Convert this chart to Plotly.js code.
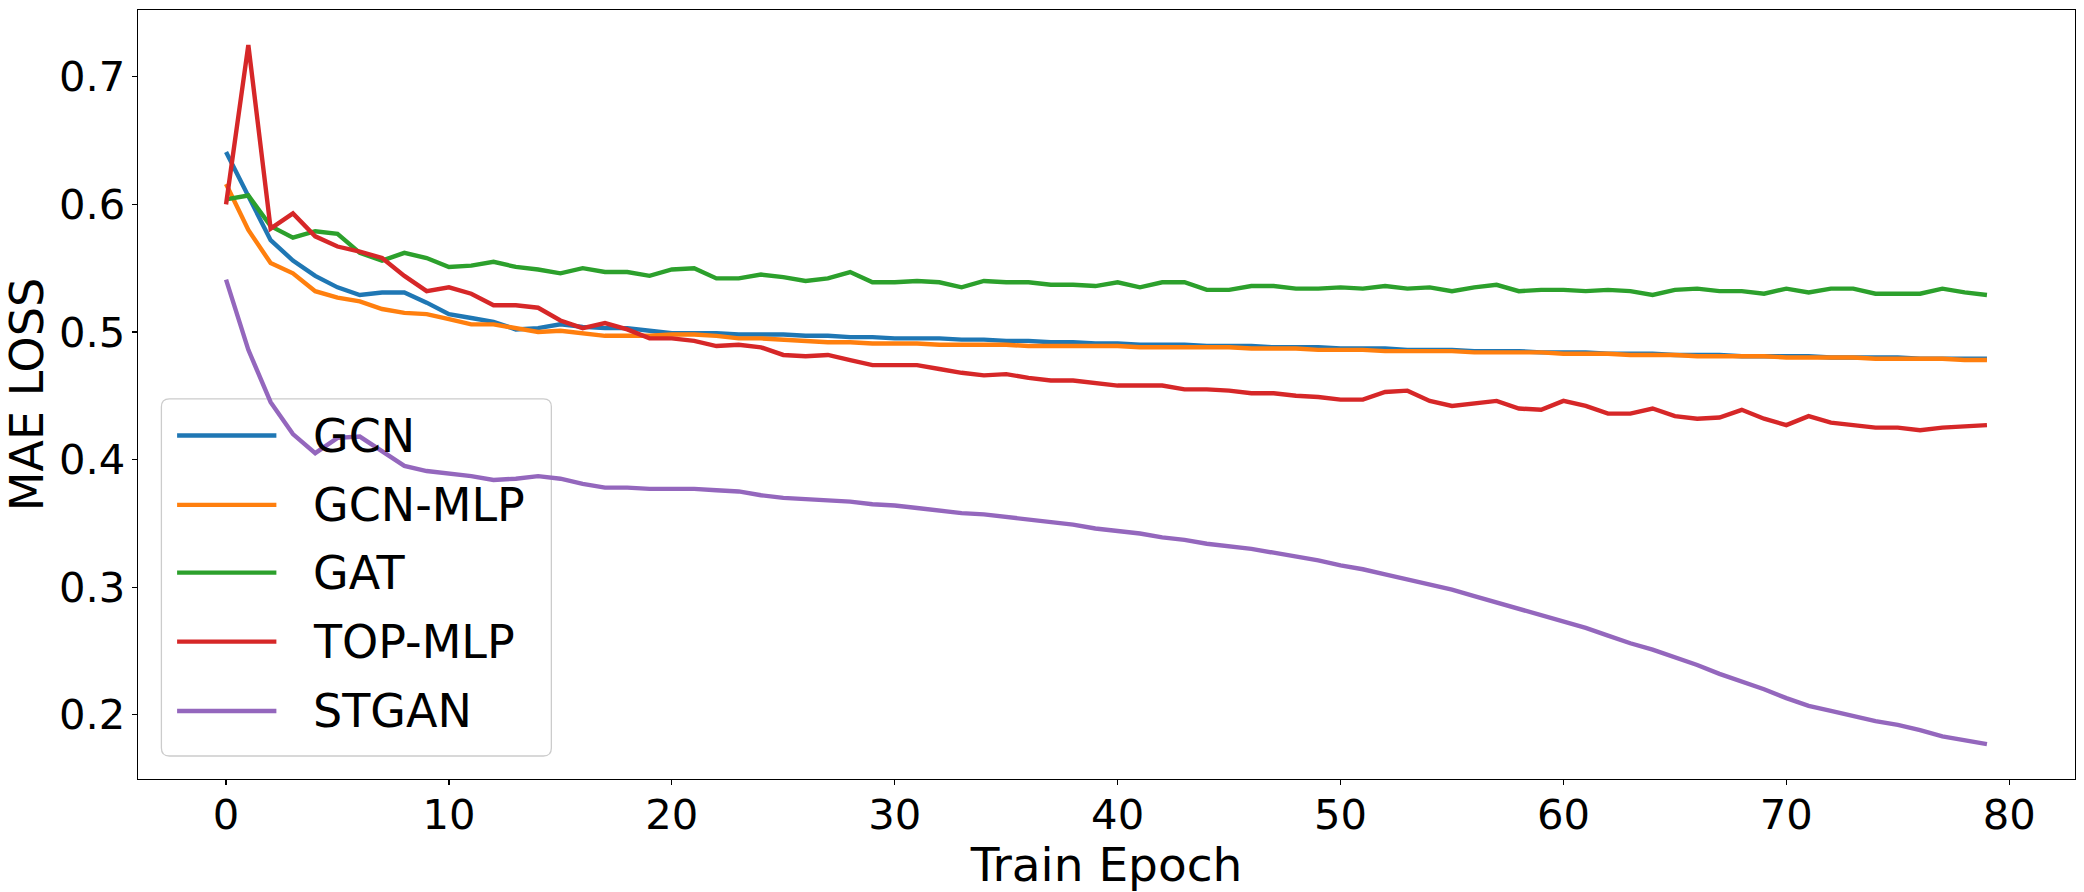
<!DOCTYPE html>
<html>
<head>
<meta charset="utf-8">
<script src="https://cdn.plot.ly/plotly-3.0.1.min.js"></script>
<style>
  html, body { margin: 0; padding: 0; background: #ffffff; }
  #chart { width: 2084px; height: 892px; }
</style>
</head>
<body>
<div id="chart"></div>
<script>
// ---------------- data ----------------
const epochs = Array.from({length: 80}, (_, i) => i);

const seriesNames = ["GCN", "GCN-MLP", "GAT", "TOP-MLP", "STGAN"];

const gcn = [
  0.641, 0.606, 0.572, 0.556, 0.544, 0.535, 0.529, 0.531, 0.531, 0.523,
  0.514, 0.511, 0.508, 0.502, 0.503, 0.506, 0.504, 0.503, 0.503, 0.501,
  0.499, 0.499, 0.499, 0.498, 0.498, 0.498, 0.497, 0.497, 0.496, 0.496,
  0.495, 0.495, 0.495, 0.494, 0.494, 0.493, 0.493, 0.492, 0.492, 0.491,
  0.491, 0.490, 0.490, 0.490, 0.489, 0.489, 0.489, 0.488, 0.488, 0.488,
  0.487, 0.487, 0.487, 0.486, 0.486, 0.486, 0.485, 0.485, 0.485, 0.484,
  0.484, 0.484, 0.483, 0.483, 0.483, 0.482, 0.482, 0.482, 0.481, 0.481,
  0.481, 0.481, 0.480, 0.480, 0.480, 0.480, 0.479, 0.479, 0.479, 0.479
];

const gcnMlp = [
  0.616, 0.580, 0.554, 0.546, 0.532, 0.527, 0.524, 0.518, 0.515, 0.514,
  0.510, 0.506, 0.506, 0.503, 0.500, 0.501, 0.499, 0.497, 0.497, 0.497,
  0.498, 0.498, 0.497, 0.495, 0.495, 0.494, 0.493, 0.492, 0.492, 0.491,
  0.491, 0.491, 0.490, 0.490, 0.490, 0.490, 0.489, 0.489, 0.489, 0.489,
  0.489, 0.488, 0.488, 0.488, 0.488, 0.488, 0.487, 0.487, 0.487, 0.486,
  0.486, 0.486, 0.485, 0.485, 0.485, 0.485, 0.484, 0.484, 0.484, 0.484,
  0.483, 0.483, 0.483, 0.482, 0.482, 0.482, 0.481, 0.481, 0.481, 0.481,
  0.480, 0.480, 0.480, 0.480, 0.479, 0.479, 0.479, 0.479, 0.478, 0.478
];

const gat = [
  0.604, 0.607, 0.583, 0.574, 0.579, 0.577, 0.562, 0.556, 0.562, 0.558,
  0.551, 0.552, 0.555, 0.551, 0.549, 0.546, 0.550, 0.547, 0.547, 0.544,
  0.549, 0.550, 0.542, 0.542, 0.545, 0.543, 0.540, 0.542, 0.547, 0.539,
  0.539, 0.540, 0.539, 0.535, 0.540, 0.539, 0.539, 0.537, 0.537, 0.536,
  0.539, 0.535, 0.539, 0.539, 0.533, 0.533, 0.536, 0.536, 0.534, 0.534,
  0.535, 0.534, 0.536, 0.534, 0.535, 0.532, 0.535, 0.537, 0.532, 0.533,
  0.533, 0.532, 0.533, 0.532, 0.529, 0.533, 0.534, 0.532, 0.532, 0.530,
  0.534, 0.531, 0.534, 0.534, 0.530, 0.530, 0.530, 0.534, 0.531, 0.529
];

const topMlp = [
  0.600, 0.725, 0.581, 0.593, 0.575, 0.567, 0.563, 0.558, 0.544, 0.532,
  0.535, 0.530, 0.521, 0.521, 0.519, 0.509, 0.503, 0.507, 0.502, 0.495,
  0.495, 0.493, 0.489, 0.490, 0.488, 0.482, 0.481, 0.482, 0.478, 0.474,
  0.474, 0.474, 0.471, 0.468, 0.466, 0.467, 0.464, 0.462, 0.462, 0.460,
  0.458, 0.458, 0.458, 0.455, 0.455, 0.454, 0.452, 0.452, 0.450, 0.449,
  0.447, 0.447, 0.453, 0.454, 0.446, 0.442, 0.444, 0.446, 0.440, 0.439,
  0.446, 0.442, 0.436, 0.436, 0.440, 0.434, 0.432, 0.433, 0.439, 0.432,
  0.427, 0.434, 0.429, 0.427, 0.425, 0.425, 0.423, 0.425, 0.426, 0.427
];

const stgan = [
  0.541, 0.486, 0.445, 0.420, 0.405, 0.417, 0.418, 0.407, 0.395, 0.391,
  0.389, 0.387, 0.384, 0.385, 0.387, 0.385, 0.381, 0.378, 0.378, 0.377,
  0.377, 0.377, 0.376, 0.375, 0.372, 0.370, 0.369, 0.368, 0.367, 0.365,
  0.364, 0.362, 0.360, 0.358, 0.357, 0.355, 0.353, 0.351, 0.349, 0.346,
  0.344, 0.342, 0.339, 0.337, 0.334, 0.332, 0.330, 0.327, 0.324, 0.321,
  0.317, 0.314, 0.310, 0.306, 0.302, 0.298, 0.293, 0.288, 0.283, 0.278,
  0.273, 0.268, 0.262, 0.256, 0.251, 0.245, 0.239, 0.232, 0.226, 0.220,
  0.213, 0.207, 0.203, 0.199, 0.195, 0.192, 0.188, 0.183, 0.180, 0.177
];

const xTickVals = [0, 10, 20, 30, 40, 50, 60, 70, 80];
const yTickVals = [0.2, 0.3, 0.4, 0.5, 0.6, 0.7];

// ---------------- styling ----------------
const colors = ["#1f77b4", "#ff7f0e", "#2ca02c", "#d62728", "#9467bd"];
const allSeries = [gcn, gcnMlp, gat, topMlp, stgan];
const FONT = "DejaVu Sans";
const LW = 4.4;

const traces = allSeries.map((ys, i) => ({
  type: "scatter",
  mode: "lines",
  name: seriesNames[i],
  x: epochs,
  y: ys,
  line: { color: colors[i], width: LW },
  showlegend: false,
  hoverinfo: "skip"
}));

// plot-area geometry (pixels)
const W = 2084, H = 892;
const mL = 137.6, mR = 9.2, mT = 10.3, mB = 113;
const pw = W - mL - mR, ph = H - mT - mB;
const px = v => (v - mL) / pw;          // pixel x -> paper
const py = v => (H - mB - v) / ph;      // pixel y -> paper

// manual legend (matplotlib look)
const shapes = [];
const annotations = [];
{
  const x0 = px(161), x1 = px(551), y0 = py(756), y1 = py(399);
  const rx = 8 / pw, ry = 8 / ph;
  const path =
    `M ${x0 + rx},${y0} L ${x1 - rx},${y0} Q ${x1},${y0} ${x1},${y0 + ry} ` +
    `L ${x1},${y1 - ry} Q ${x1},${y1} ${x1 - rx},${y1} ` +
    `L ${x0 + rx},${y1} Q ${x0},${y1} ${x0},${y1 - ry} ` +
    `L ${x0},${y0 + ry} Q ${x0},${y0} ${x0 + rx},${y0} Z`;
  shapes.push({
    type: "path", xref: "paper", yref: "paper", path: path,
    line: { color: "#cccccc", width: 1.3 },
    fillcolor: "rgba(255,255,255,0.8)", layer: "below"
  });
  const rowsY = [435.7, 505, 572.7, 641.7, 711];
  seriesNames.forEach((n, i) => {
    shapes.push({
      type: "line", xref: "paper", yref: "paper",
      x0: px(176.7), x1: px(276), y0: py(rowsY[i]), y1: py(rowsY[i]),
      line: { color: colors[i], width: LW }
    });
    annotations.push({
      xref: "paper", yref: "paper", x: px(311), y: py(rowsY[i]),
      xanchor: "left", yanchor: "middle", showarrow: false,
      text: n, font: { family: FONT, size: 46, color: "#000000" }
    });
  });
}

const layout = {
  width: W, height: H,
  margin: { l: mL, r: mR, t: mT, b: mB, pad: 0 },
  paper_bgcolor: "#ffffff",
  plot_bgcolor: "#ffffff",
  showlegend: false,
  font: { family: FONT, color: "#000000" },
  xaxis: {
    range: [-3.95, 82.95],
    tickvals: xTickVals,
    ticktext: xTickVals.map(String),
    ticks: "outside", ticklen: 5, tickwidth: 1.2, tickcolor: "#000000",
    ticklabelstandoff: -6,
    showline: true, linecolor: "#000000", linewidth: 1.3, mirror: true,
    showgrid: false, zeroline: false,
    tickfont: { family: FONT, size: 41.7, color: "#000000" },
    title: { text: "Train Epoch", font: { family: FONT, size: 47, color: "#000000" }, standoff: 0 }
  },
  yaxis: {
    range: [0.1496, 0.7524],
    tickvals: yTickVals,
    ticktext: yTickVals.map(v => v.toFixed(1)),
    ticks: "outside", ticklen: 5, tickwidth: 1.2, tickcolor: "#000000",
    ticklabelstandoff: -2,
    showline: true, linecolor: "#000000", linewidth: 1.3, mirror: true,
    showgrid: false, zeroline: false,
    tickfont: { family: FONT, size: 41.7, color: "#000000" },
    title: { text: "MAE LOSS", font: { family: FONT, size: 46, color: "#000000" }, standoff: 20 }
  },
  shapes: shapes,
  annotations: annotations
};

Plotly.newPlot("chart", traces, layout, { displayModeBar: false, staticPlot: true });
</script>
</body>
</html>
